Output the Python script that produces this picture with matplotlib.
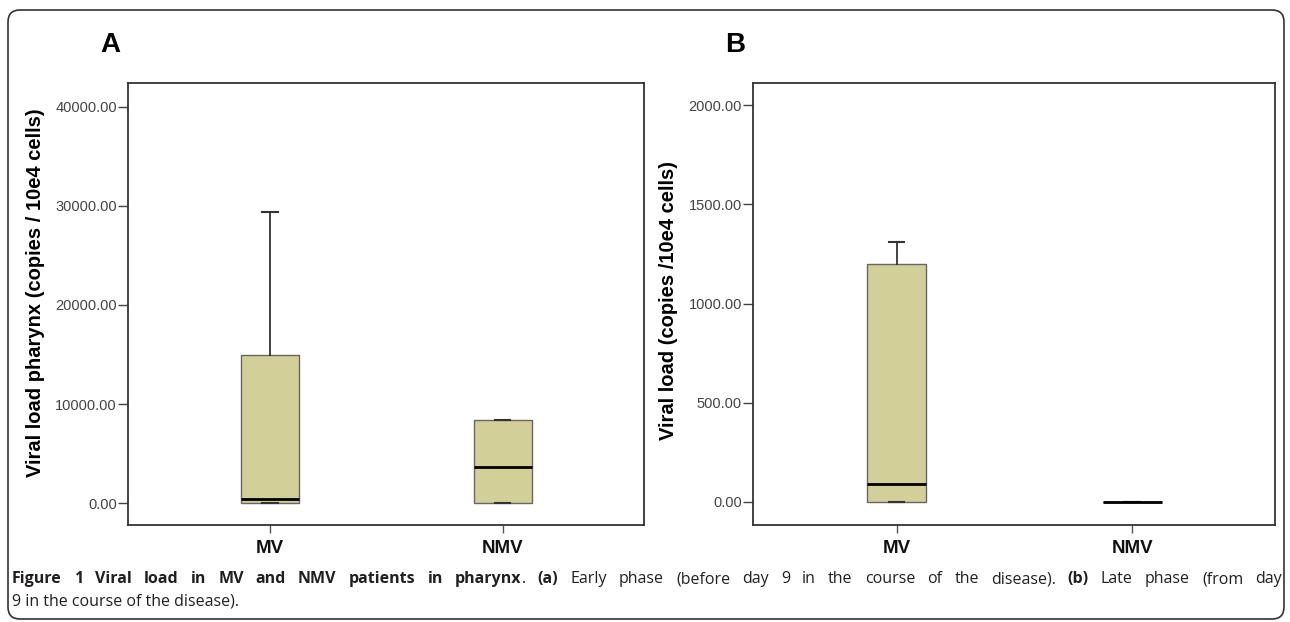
import matplotlib
matplotlib.use('Agg')
import matplotlib.pyplot as plt
from matplotlib.patches import FancyBboxPatch
from matplotlib.transforms import IdentityTransform

groups = ['MV', 'NMV']

# panel A: early phase, copies / 10e4 cells
a_low = [0, 0]
a_q1 = [0, 0]
a_med = [400, 3650]
a_q3 = [14900, 8400]
a_high = [29400, 8400]
a_ticks = [0, 10000, 20000, 30000, 40000]

# panel B: late phase
b_low = [0, 0]
b_q1 = [0, 0]
b_med = [90, 0]
b_q3 = [1200, 0]
b_high = [1310, 0]
b_ticks = [0, 500, 1000, 1500, 2000]

caption1 = [("Figure 1 Viral load in MV and NMV patients in pharynx", True),
            (". ", False), ("(a)", True),
            (" Early phase (before day 9 in the course of the disease). ", False),
            ("(b)", True), (" Late phase (from day", False)]
caption2 = "9 in the course of the disease)."

plt.rcParams['font.family'] = ['Liberation Sans', 'DejaVu Sans']

W, H = 1290, 622
fig = plt.figure(figsize=(W / 100, H / 100), dpi=100)


def fx(px):
    return px / W


def fy(py):
    return 1 - py / H


def panel(left, right, low, q1, med, q3, high, ticks, ylim):
    top, bottom = 83, 525
    ax = fig.add_axes([fx(left), fy(bottom), (right - left) / W, (bottom - top) / H])
    stats = [dict(label=g, whislo=l, q1=a, med=m, q3=b, whishi=h)
             for g, l, a, m, b, h in zip(groups, low, q1, med, q3, high)]
    ax.bxp(stats, positions=[1, 2], widths=0.25, capwidths=0.065,
           patch_artist=True, showfliers=False,
           boxprops=dict(facecolor='#d3cf99', edgecolor='#666666', linewidth=1.0),
           medianprops=dict(color='black', linewidth=2.0),
           whiskerprops=dict(color='#222222', linewidth=1.2),
           capprops=dict(color='#333333', linewidth=1.5))
    ax.set_xlim(0.39, 2.607)
    ax.set_ylim(*ylim)
    ax.set_yticks(ticks)
    ax.set_yticklabels(['%.2f' % t for t in ticks], fontsize=10.5, color='#444444')
    ax.set_xticks([1, 2])
    ax.set_xticklabels(groups, fontsize=13.5, fontweight='bold', color='#111111')
    ax.tick_params(axis='y', length=7, width=1.0, color='#444444', pad=1)
    ax.tick_params(axis='x', length=6, width=1.0, color='#555555', pad=5)
    for s in ax.spines.values():
        s.set_linewidth(1.3)
        s.set_color('#333333')
    return ax


panel(128, 644, a_low, a_q1, a_med, a_q3, a_high, a_ticks, (-2222, 42424))
panel(753, 1275, b_low, b_q1, b_med, b_q3, b_high, b_ticks, (-116, 2111))

fig.text(fx(36), fy(293), 'Viral load pharynx (copies / 10e4 cells)', rotation=90,
         ha='center', va='center', fontsize=14.5, fontweight='bold')
fig.text(fx(668), fy(300), 'Viral load (copies /10e4 cells)', rotation=90,
         ha='center', va='center', fontsize=14.5, fontweight='bold')
fig.text(fx(100), fy(52), 'A', fontsize=20, fontweight='bold', va='baseline')
fig.text(fx(725), fy(52), 'B', fontsize=20, fontweight='bold', va='baseline')

# rounded frame
frame = FancyBboxPatch((8, H - 619), 1276, 609, boxstyle='round,pad=0,rounding_size=12',
                       transform=IdentityTransform(), fill=False, ec='#333333', lw=1.2)
fig.add_artist(frame)

# caption, first line justified
cap_kw = dict(fontsize=11.5, family='Open Sans', color='#231f20', va='baseline')
words = [[]]
for txt, bold in caption1:
    chunks = txt.split(' ')
    for i, c in enumerate(chunks):
        if i > 0:
            words.append([])
        if c:
            words[-1].append((c, bold))
words = [w for w in words if w]

r = fig.canvas.get_renderer()
items = []
for word in words:
    segs = []
    for txt, bold in word:
        t = fig.text(0, 0, txt, fontweight='bold' if bold else 'normal', **cap_kw)
        segs.append((t, t.get_window_extent(r).width))
    items.append(segs)
total = sum(w for segs in items for _, w in segs)
x0, x1 = 12, 1282
gap = (x1 - x0 - total) / (len(items) - 1)
x = x0
for segs in items:
    for t, w in segs:
        t.set_position((fx(x), fy(583)))
        x += w
    x += gap
fig.text(fx(x0), fy(606), caption2, **cap_kw)

fig.savefig('out.png', dpi=100)
